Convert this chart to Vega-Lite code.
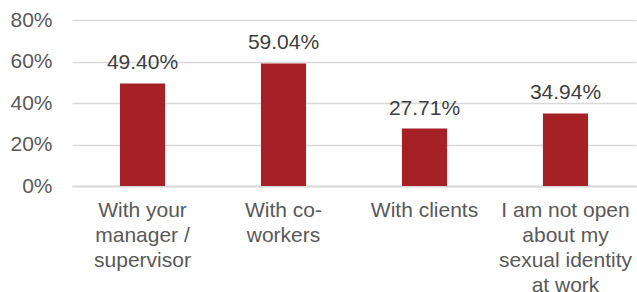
{
  "$schema": "https://vega.github.io/schema/vega-lite/v6.json",
  "autosize": "none",
  "width": 564,
  "height": 166,
  "padding": {"left": 72, "top": 20, "right": 1, "bottom": 106},
  "background": "white",
  "data": {
    "values": [
      {"category": "With your|manager /|supervisor", "value": 0.4940},
      {"category": "With co-|workers", "value": 0.5904},
      {"category": "With clients", "value": 0.2771},
      {"category": "I am not open|about my|sexual identity|at work", "value": 0.3494}
    ]
  },
  "config": {
    "view": {"stroke": null},
    "font": "Liberation Sans"
  },
  "encoding": {
    "x": {
      "field": "category",
      "type": "nominal",
      "sort": null,
      "scale": {"paddingInner": 0.68, "paddingOuter": 0.34},
      "axis": {
        "title": null,
        "labelAngle": 0,
        "labelExpr": "split(datum.value, '|')",
        "labelFont": "Liberation Sans",
        "labelFontSize": 21,
        "labelColor": "#595959",
        "labelLineHeight": 25,
        "labelBaseline": "top",
        "labelPadding": 13,
        "labelLimit": 300,
        "ticks": false,
        "domainColor": "#D9D9D9",
        "domainWidth": 2
      }
    },
    "y": {
      "field": "value",
      "type": "quantitative",
      "scale": {"domain": [0, 0.8]},
      "axis": {
        "title": null,
        "format": ".0%",
        "values": [0, 0.2, 0.4, 0.6, 0.8],
        "labelFont": "Liberation Sans",
        "labelFontSize": 21,
        "labelColor": "#595959",
        "labelPadding": 20,
        "ticks": false,
        "domain": false,
        "gridColor": "#D9D9D9",
        "gridWidth": 1.5
      }
    }
  },
  "layer": [
    {
      "mark": {"type": "bar", "color": "#A52125"}
    },
    {
      "mark": {"type": "text", "baseline": "alphabetic", "dy": -14, "fontSize": 21, "color": "#404040", "font": "Liberation Sans"},
      "encoding": {
        "text": {"field": "value", "type": "quantitative", "format": ".2%"}
      }
    }
  ]
}
